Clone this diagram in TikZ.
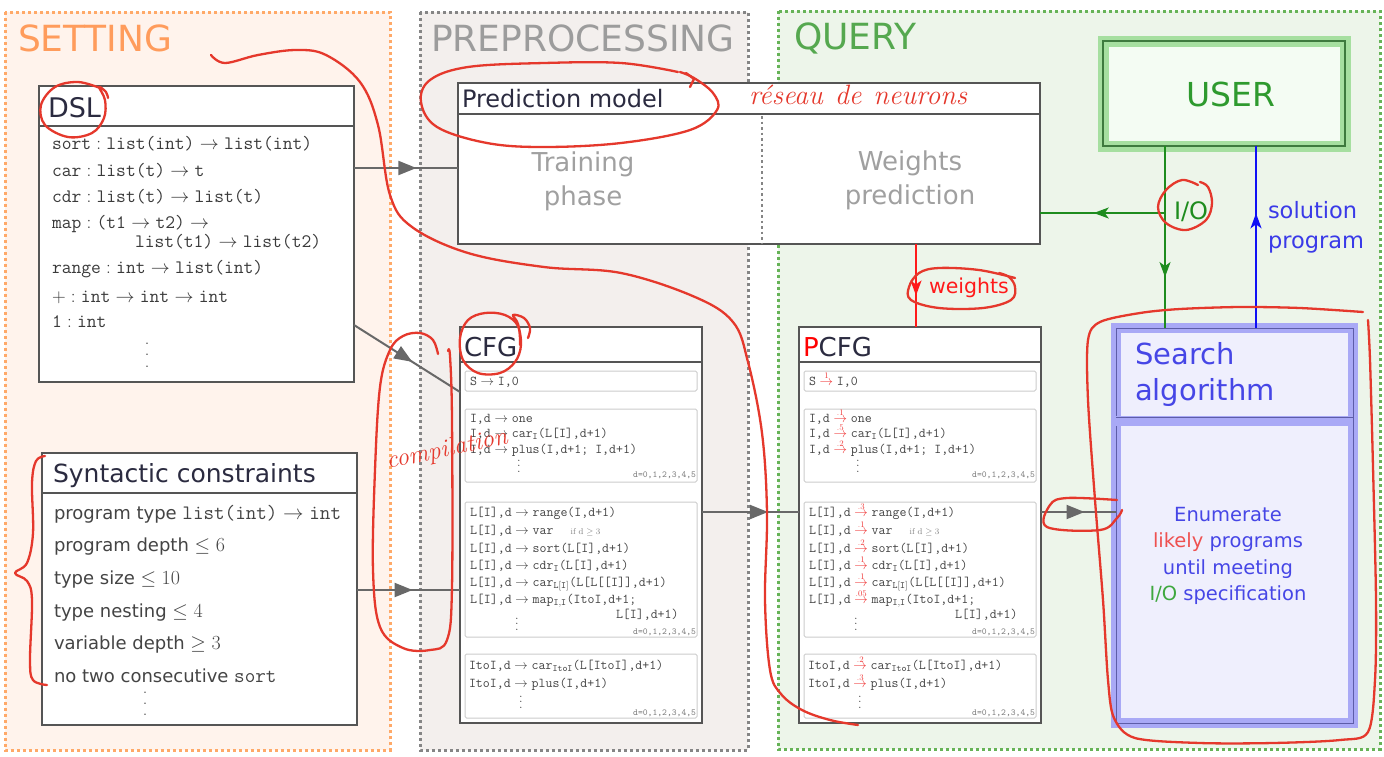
\RequirePackage{fix-cm}
\documentclass[tikz,border=0pt]{standalone}
\usepackage{amsmath}
\usepackage{fontspec}
\setsansfont{DejaVu Sans}
\usetikzlibrary{arrows.meta,decorations.markings,calc}

\definecolor{setfill}{HTML}{FFF3EC}
\definecolor{setdraw}{HTML}{FFA968}
\definecolor{settext}{HTML}{FF9C5C}
\definecolor{prefill}{HTML}{F3EFED}
\definecolor{predraw}{HTML}{858585}
\definecolor{pretext}{HTML}{9C9C9C}
\definecolor{qfill}{HTML}{EDF5EA}
\definecolor{qdraw}{HTML}{66B357}
\definecolor{qtext}{HTML}{55A84F}
\definecolor{titlec}{HTML}{2B2B40}
\definecolor{boxdraw}{HTML}{555555}
\definecolor{dsltext}{HTML}{3A3A3A}
\definecolor{syntext}{HTML}{444444}
\definecolor{connc}{HTML}{686868}
\definecolor{annc}{HTML}{E5382C}
\definecolor{iogreen}{HTML}{1E8C1E}
\definecolor{solblue}{HTML}{1010F5}
\definecolor{soltext}{HTML}{3A3AE8}
\definecolor{userband}{HTML}{A6DFA0}
\definecolor{userline}{HTML}{3E7A3E}
\definecolor{userfill}{HTML}{F4FCF3}
\definecolor{usertext}{HTML}{2E9A2E}
\definecolor{searchband}{HTML}{A9A9F6}
\definecolor{searchline}{HTML}{5D5DA8}
\definecolor{searchfill}{HTML}{EFEFFD}
\definecolor{searchtext}{HTML}{4646E6}
\definecolor{likely}{HTML}{EE5050}
\definecolor{iotext}{HTML}{3FA83F}
\definecolor{innerdraw}{HTML}{CCCCCC}
\definecolor{gtext}{HTML}{444444}
\definecolor{smallgrey}{HTML}{808080}
\definecolor{wred}{HTML}{FF1A1A}
\definecolor{pred}{HTML}{F03A3A}
\definecolor{phasetext}{HTML}{A0A0A0}

\newcommand\fsz[2]{\fontsize{#1}{#2}\selectfont}
\newcommand\myto{\ensuremath{\;\rightarrow\;}}
\newcommand\hasty{\ensuremath{\;:\;}}
\newcommand\vdts[1]{\vbox{\baselineskip=#1\lineskiplimit=0pt\hbox{.}\hbox{.}\hbox{.}}}
\newcommand\cfgarr[1]{\ensuremath{\;\rightarrow\;}}
\newcommand\pcfgarr[1]{\ensuremath{\;\mathrel{\overset{\raisebox{-2.5pt}[0pt][0pt]{\rmfamily\fsz{8.5}{9}\textcolor{pred}{#1}}}{\textcolor{pred}{\rightarrow}}}\;}}
\let\garr\cfgarr

\newcommand\drawgrammar[1]{%
  \node[inbox, minimum width=232pt, minimum height=20pt] (#1-b1) at (465,371) {};
  \node[inbox, minimum width=232pt, minimum height=73pt] (#1-b2) at (465,409) {};
  \node[inbox, minimum width=232pt, minimum height=135pt] (#1-b3) at (465,502) {};
  \node[inbox, minimum width=232pt, minimum height=64pt] (#1-b4) at (465,654) {};
  \node[gline] (#1-l1) at (470,381) {S\garr{1}I,0};
  \node[gline] (#1-l2) at (470,418) {I,d\garr{.1}one};
  \node[gline] (#1-l3) at (470,433) {I,d\garr{.5}car$_{\mathtt{I}}$(L[I],d+1)};
  \node[gline] (#1-l4) at (470,449) {I,d\garr{.2}plus(I,d+1; I,d+1)};
  \node[gdots] (#1-v1) at (519,466) {\vdts{5.5pt}};
  \node[gd] (#1-d1) at (696,475) {d=0,1,2,3,4,5};
  \node[gline] (#1-l5) at (470,512) {L[I],d\garr{.3}range(I,d+1)};
  \node[gline] (#1-l6) at (470,530) {L[I],d\garr{.1}var\hspace{17pt}{\rmfamily\fsz{8.5}{9}\textcolor{smallgrey}{if d $\geq 3$}}};
  \node[gline] (#1-l7) at (470,548) {L[I],d\garr{.2}sort(L[I],d+1)};
  \node[gline] (#1-l8) at (470,565) {L[I],d\garr{.1}cdr$_{\mathtt{I}}$(L[I],d+1)};
  \node[gline] (#1-l9) at (470,582) {L[I],d\garr{.1}car$_{\mathtt{L[I]}}$(L[L[[I]],d+1)};
  \node[gline] (#1-l10) at (470,599) {L[I],d\garr{.05}map$_{\mathtt{I,I}}$(ItoI,d+1;};
  \node[gline] (#1-l11) at (616,614) {L[I],d+1)};
  \node[gdots] (#1-v2) at (517,624) {\vdts{5.5pt}};
  \node[gd] (#1-d2) at (696,632) {d=0,1,2,3,4,5};
  \node[gline] (#1-l12) at (469,665) {ItoI,d\garr{.2}car$_{\mathtt{ItoI}}$(L[ItoI],d+1)};
  \node[gline] (#1-l13) at (469,683) {ItoI,d\garr{.3}plus(I,d+1)};
  \node[gdots] (#1-v3) at (521,702) {\vdts{5.5pt}};
  \node[gd] (#1-d3) at (696,713) {d=0,1,2,3,4,5};
}

\begin{document}
\begin{tikzpicture}[x=1pt,y=-1pt, font=\sffamily,
  txt/.style={inner sep=0pt, outer sep=0pt},
  paneltitle/.style={txt, anchor=west, font=\sffamily\fsz{36}{40}},
  panelborder/.style={line width=3pt, dash pattern=on 3pt off 3pt},
  box/.style={draw=boxdraw, line width=2pt, fill=white, inner sep=0pt, outer sep=0pt, anchor=north west},
  boxline/.style={draw=boxdraw, line width=2pt},
  btitle/.style={txt, anchor=west, text=titlec, text depth=0pt},
  dslline/.style={txt, anchor=west, text=dsltext, font=\fsz{19}{21}, text height=14.5pt, text depth=3pt},
  synline/.style={txt, anchor=west, text=syntext, font=\sffamily\fsz{18}{20}, text height=16pt, text depth=3pt},
  inbox/.style={draw=innerdraw, line width=1pt, fill=white, rounded corners=1.5pt, inner sep=0pt, outer sep=0pt, anchor=north west},
  gline/.style={txt, anchor=west, text=gtext, font=\ttfamily\fsz{13.5}{15}, text height=10.4pt, text depth=2pt},
  gdots/.style={txt, text=gtext, font=\rmfamily\fsz{13}{15}},
  gd/.style={txt, anchor=east, text=smallgrey, font=\ttfamily\fsz{9.2}{10}},
  phase/.style={txt, align=center, text=phasetext, font=\sffamily\fsz{26}{34}},
  userbox/.style={preaction={fill=userfill}, draw=userband, line width=11pt, postaction={draw=userline, line width=1.2pt}, inner sep=0pt, outer sep=0pt},
  searchbox/.style={preaction={fill=searchfill}, draw=searchband, line width=10pt, postaction={draw=searchline, line width=1pt}, inner sep=0pt, outer sep=0pt, anchor=north west},
  connline/.style={connc, line width=2pt},
  midarrow/.style={postaction={decorate}, decoration={markings, mark=at position #1 with {\arrow{Triangle[length=18pt,width=14pt]}}}},
  smallarrow/.style={postaction={decorate}, decoration={markings, mark=at position #1 with {\arrow{Stealth[length=15pt,width=11pt,inset=4pt]}}}},
  ann/.style={draw=annc, line width=2.3pt, line cap=round, line join=round}
]
\fill[white] (0,0) rectangle (1384,756);
\useasboundingbox (0,0) rectangle (1384,756);

% ---------- panels ----------
\fill[setfill] (5,12) rectangle (390,750);
\draw[setdraw, panelborder] (5,12) rectangle (390,750);
\fill[prefill] (420,12) rectangle (748,750);
\draw[predraw, panelborder] (420,12) rectangle (748,750);
\fill[qfill] (778,11) rectangle (1380,749);
\draw[qdraw, panelborder] (778,11) rectangle (1380,749);

\node[paneltitle, text=settext] (tset) at (18,38) {SETTING};
\node[paneltitle, text=pretext] (tpre) at (431,38) {PREPROCESSING};
\node[paneltitle, text=qtext] (tq) at (794,38) {QUERY};

% ---------- DSL ----------
\node[box, minimum width=315pt, minimum height=296pt] (dsl) at (39,86) {};
\draw[boxline] (dsl.west |- 0,126) -- (dsl.east |- 0,126);
\node[btitle, font=\sffamily\fsz{27}{30}] (dsltitle) at (48,107) {DSL};
\node[dslline] (d1) at (52,144) {\texttt{sort}\hasty\texttt{list(int)}\myto\texttt{list(int)}};
\node[dslline] (d2) at (52,171) {\texttt{car}\hasty\texttt{list(t)}\myto\texttt{t}};
\node[dslline] (d3) at (52,197) {\texttt{cdr}\hasty\texttt{list(t)}\myto\texttt{list(t)}};
\node[dslline] (d4) at (52,223) {\texttt{map}\hasty\texttt{(t1}\myto\texttt{t2)}\myto};
\node[dslline] (d5) at (135,242) {\texttt{list(t1)}\myto\texttt{list(t2)}};
\node[dslline] (d6) at (52,268) {\texttt{range}\hasty\texttt{int}\myto\texttt{list(int)}};
\node[dslline] (d7) at (52,297) {$+$\hasty\texttt{int}\myto\texttt{int}\myto\texttt{int}};
\node[dslline] (d8) at (52,322) {\texttt{1}\hasty\texttt{int}};
\node[txt, text=dsltext, font=\rmfamily\fsz{18}{20}] (dv) at (147,355) {\vdts{11.5pt}};

% ---------- Syntactic constraints ----------
\node[box, minimum width=315pt, minimum height=272pt] (syn) at (42,453) {};
\draw[boxline] (syn.west |- 0,493) -- (syn.east |- 0,493);
\node[btitle, font=\sffamily\fsz{25}{28}] (syntitle) at (53,473) {Syntactic constraints};
\node[synline] (s1) at (54,513) {program type {\fsz{20.5}{22}\texttt{list(int)}\myto\texttt{int}}};
\node[synline] (s2) at (54,545) {program depth {\fsz{20}{22}$\leq 6$}};
\node[synline] (s3) at (54,578) {type size {\fsz{20}{22}$\leq 10$}};
\node[synline] (s4) at (54,611) {type nesting {\fsz{20}{22}$\leq 4$}};
\node[synline] (s5) at (54,643) {variable depth {\fsz{20}{22}$\geq 3$}};
\node[synline] (s6) at (54,676) {no two consecutive {\fsz{20.5}{22}\texttt{sort}}};
\node[txt, text=syntext, font=\rmfamily\fsz{18}{20}] (sv) at (145,704) {\vdts{11pt}};

% ---------- Prediction model ----------
\node[box, minimum width=582pt, minimum height=161pt] (pred) at (458,83) {};
\draw[boxline] (pred.west |- 0,114) -- (pred.east |- 0,114);
\coordinate (sepx) at (762,0);
\draw[predraw, line width=2.5pt, dash pattern=on 2.5pt off 3pt] (sepx |- 0,116) -- (sepx |- pred.south);
\node[btitle, font=\sffamily\fsz{24}{26}] (predtitle) at (462,98) {Prediction model};
\node[phase] (train) at (583,181) {Training\\phase};
\node[phase] (wpred) at (910,180) {Weights\\prediction};

% ---------- CFG / PCFG ----------
\node[box, minimum width=242pt, minimum height=396pt] (cfg) at (460,327) {};
\draw[boxline] (cfg.west |- 0,362) -- (cfg.east |- 0,362);
\node[btitle, font=\sffamily\fsz{26}{28}] (cfgtitle) at (464,347) {CFG};
\begin{scope}
  \let\garr\cfgarr
  \drawgrammar{cfg}
\end{scope}

\node[box, minimum width=242pt, minimum height=396pt] (pcfg) at (799,327) {};
\draw[boxline] (pcfg.west |- 0,362) -- (pcfg.east |- 0,362);
\node[btitle, font=\sffamily\fsz{26}{28}] (pcfgtitle) at (803,347) {\textcolor{red}{P}CFG};
\begin{scope}[shift={(339,0)}]
  \let\garr\pcfgarr
  \drawgrammar{pcfg}
\end{scope}

% ---------- USER ----------
\node[userbox, minimum width=242pt, minimum height=105pt] (user) at (1224,93.5) {};
\node[txt, text=usertext, font=\sffamily\fsz{33}{36}] (usertxt) at (1231,94) {USER};

% ---------- Search ----------
\node[searchbox, minimum width=237pt, minimum height=395pt] (search) at (1116,328) {};
\draw[searchband, line width=10pt] (search.west |- 0,421) -- (search.east |- 0,421);
\draw[searchline, line width=1pt] (search.west |- 0,417) -- (search.east |- 0,417);
\node[txt, anchor=north west, align=left, text=searchtext, font=\sffamily\fsz{29}{36}] (searchtitle) at (1135,342) {Search\\algorithm};
\node[txt, align=center, text=searchtext, font=\sffamily\fsz{19.5}{26.5}] (enum) at (1228,556) {Enumerate\\\textcolor{likely}{likely} programs\\until meeting\\\textcolor{iotext}{I/O} specification};

% ---------- connectors ----------
\draw[connline, midarrow=0.6] (dsl.east |- 0,168) -- (pred.west |- 0,168);
\draw[connline, midarrow=0.55] (dsl.east |- 0,325) -- (cfg.west |- 0,392);
\draw[connline, midarrow=0.54] (syn.east |- 0,590) -- (cfg.west |- 0,590);
\draw[connline, midarrow=0.68] (cfg.east |- 0,512) -- (pcfg.west |- 0,512);
\draw[connline, midarrow=0.58] (pcfg.east |- 0,512) -- (search.west |- 0,512);

\coordinate (iox) at (1165,0);
\coordinate (solx) at (1256,0);
\coordinate (wx) at (916,0);
\draw[iogreen, line width=1.8pt, smallarrow=0.72] (user.south -| iox) -- (search.north -| iox);
\draw[iogreen, line width=1.8pt, smallarrow=0.57] (iox |- 0,213) -- (pred.east |- 0,213);
\draw[solblue, line width=1.8pt, smallarrow=0.63] (search.north -| solx) -- (user.south -| solx);
\draw[wred, line width=1.8pt, smallarrow=0.62] (pred.south -| wx) -- (pcfg.north -| wx);

\node[txt, anchor=west, text=iogreen, font=\sffamily\fsz{24}{26}] (iolabel) at (1174,212) {I/O};
\node[txt, anchor=west, align=left, text=soltext, font=\sffamily\fsz{22.5}{30}] (sollabel) at (1268,227) {solution\\program};
\node[txt, anchor=west, text=wred, font=\sffamily\fsz{20.5}{22}] (wlabel) at (929,288) {weights};

% ---------- hand-drawn annotations ----------
\draw[ann] plot[smooth, tension=0.6] coordinates {(211,55) (225,63) (258,55) (296,50) (326,55) (360,82) (378,125) (390,195) (412,227) (468,253) (544,267) (621,273) (695,297) (733,322) (748,362) (762,433) (767,513) (765,600) (770,670) (781,694) (802,710) (830,720) (858,725)};
\draw[ann] plot[smooth, tension=0.6] coordinates {(678,72) (621,63) (544,63) (468,67) (430,80) (421,102) (437,127) (487,143) (544,147) (621,143) (690,130) (717,110) (713,93) (694,78) (680,72)};
\draw[ann] (686,73) -- (694,79) -- (690,87);
\node[txt, anchor=base west, text=annc, font=\rmfamily\itshape\fsz{28}{30}] (reseau) at (749,104) {réseau\hspace{12pt}de\hspace{12pt}neurons};
\draw[ann] plot[smooth, tension=0.6] coordinates {(100,88) (78,82) (55,87) (41,105) (45,125) (68,137) (92,133) (104,118) (105,100) (99,87) (106,92) (108,98)};
\draw[ann] plot[smooth, tension=0.6] coordinates {(45,456) (36,461) (32,483) (33,533) (27,563) (15,573) (27,581) (32,600) (30,660) (33,680) (47,685)};
\draw[ann] plot[smooth, tension=0.6] coordinates {(438,354) (433,340) (420,333) (403,336) (390,350) (380,387) (375,470) (373,570) (380,627) (403,648) (430,650) (447,640) (452,587) (452,420) (450,356) (448,351)};
\node[txt, text=annc, font=\rmfamily\itshape\fsz{25}{27}, rotate=12] (compil) at (447,450) {compilation};
\draw[ann] plot[smooth, tension=0.6] coordinates {(520,345) (518,326) (505,315) (485,313) (468,320) (460,338) (463,360) (478,373) (500,373) (515,362) (521,345) (518,324) (513,315) (524,318) (530,328) (528,338)};
\draw[ann] plot[smooth, tension=0.6] coordinates {(1015,278) (979,270) (939,268) (919,273) (909,287) (911,300) (939,308) (983,308) (1011,300) (1015,287) (1009,277) (999,273)};
\draw[ann] plot[smooth, tension=0.6] coordinates {(1198,185) (1182,180) (1166,190) (1158,207) (1166,223) (1186,230) (1206,220) (1212,203) (1208,187) (1200,182)};
\draw[ann] plot[smooth, tension=0.5] coordinates {(1363,312) (1300,308) (1240,307) (1180,309) (1140,313) (1100,322) (1088,340) (1088,400) (1095,500) (1103,600) (1108,680) (1114,718) (1135,738) (1200,743) (1273,743) (1340,740) (1368,732) (1375,680) (1376,600) (1373,467) (1370,360) (1368,320)};
\draw[ann] plot[smooth, tension=0.6] coordinates {(1117,500) (1067,498) (1050,505) (1047,527) (1100,530) (1117,518) (1122,510)};
\end{tikzpicture}
\end{document}
